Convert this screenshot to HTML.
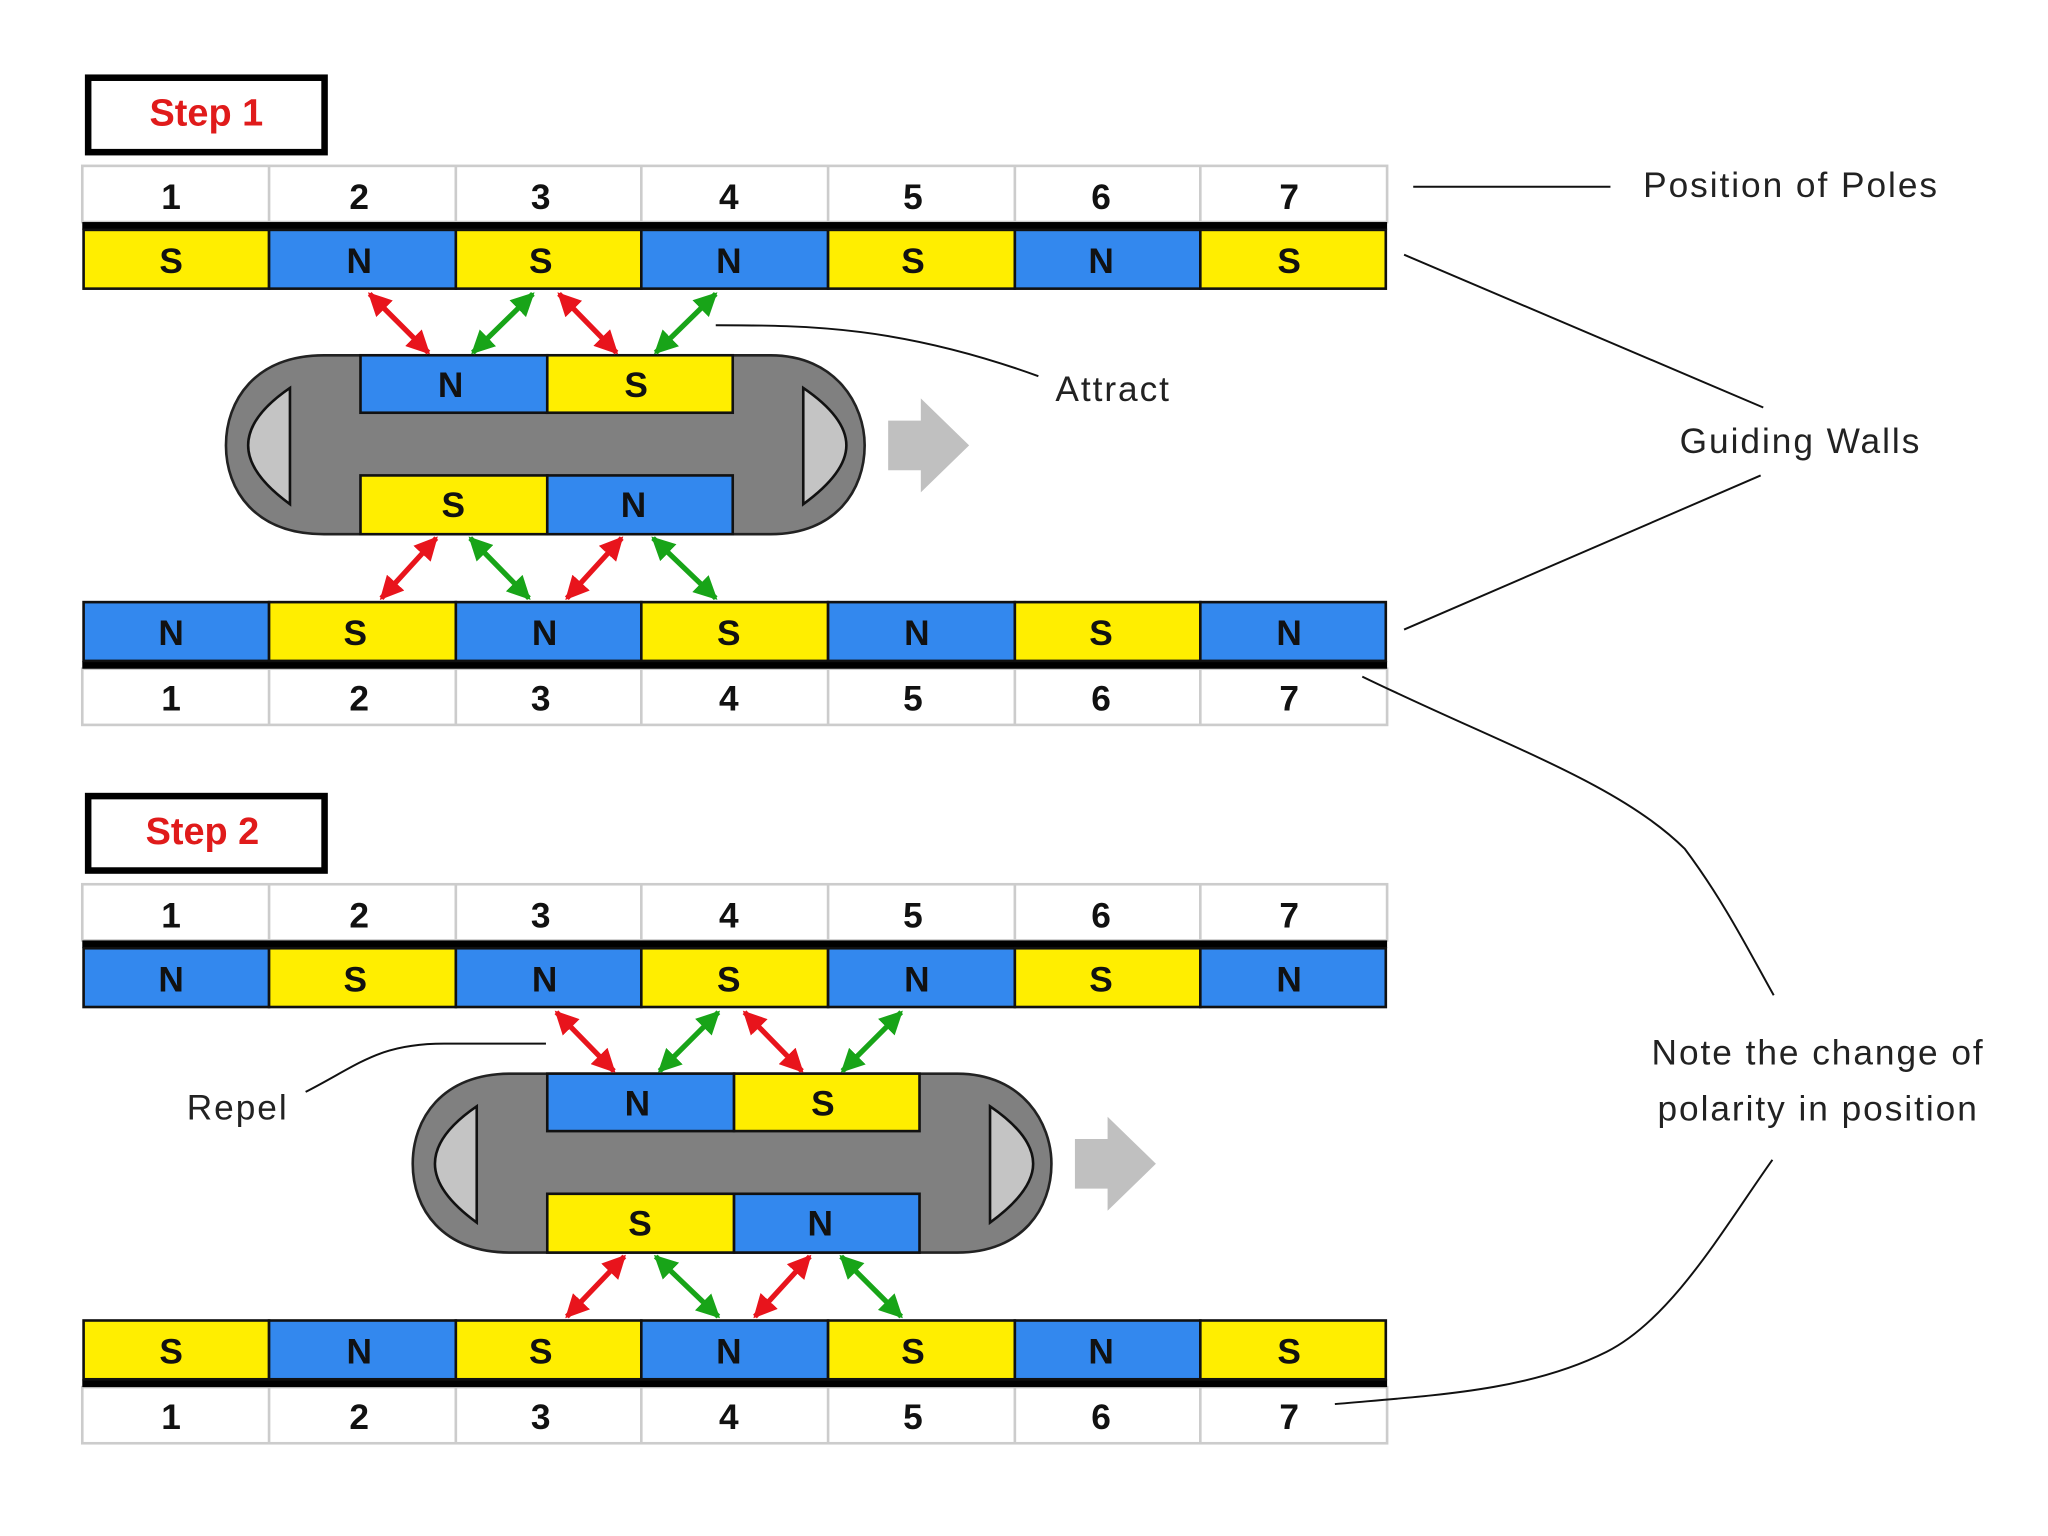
<!DOCTYPE html>
<html><head><meta charset="utf-8"><style>
html,body{margin:0;padding:0;background:#fff;}
svg{display:block;}
text{font-family:"Liberation Sans",sans-serif;}
.n{font-size:27px;font-weight:bold;fill:#111;text-anchor:middle;}
.lb{font-size:27px;fill:#222;letter-spacing:1.5px;}
</style></head><body>
<svg width="2048" height="1536" viewBox="0 0 1568 1176" xmlns="http://www.w3.org/2000/svg">
<defs>
<marker id="rh" viewBox="0 0 10 10" refX="9" refY="5" markerWidth="4.5" markerHeight="4.5" orient="auto-start-reverse"><path d="M0,0 L10,5 L0,10 z" fill="#e8141c"/></marker>
<marker id="gh" viewBox="0 0 10 10" refX="9" refY="5" markerWidth="4.5" markerHeight="4.5" orient="auto-start-reverse"><path d="M0,0 L10,5 L0,10 z" fill="#18a418"/></marker>
</defs>
<rect width="1568" height="1176" fill="#fff"/>

<g>
<rect x="67.5" y="59.5" width="181" height="57" fill="#fff" stroke="#000" stroke-width="5"/>
<text x="158" y="96" text-anchor="middle" style="font-size:29px;font-weight:bold;fill:#e01b1b">Step 1</text>
</g>
<g>
<rect x="67.5" y="609.5" width="181" height="57" fill="#fff" stroke="#000" stroke-width="5"/>
<text x="155" y="646" text-anchor="middle" style="font-size:29px;font-weight:bold;fill:#e01b1b">Step 2</text>
</g>

<g stroke="#ccc" stroke-width="2" fill="#fff">
<rect x="63" y="127" width="999" height="43"/>
<rect x="63" y="512" width="999" height="43"/>
<rect x="63" y="677" width="999" height="43"/>
<rect x="63" y="1062" width="999" height="43"/>
</g>
<g stroke="#ccc" stroke-width="2">
<path d="M206 127V170M349 127V170M491 127V170M634 127V170M777 127V170M919 127V170"/>
<path d="M206 512V555M349 512V555M491 512V555M634 512V555M777 512V555M919 512V555"/>
<path d="M206 677V720M349 677V720M491 677V720M634 677V720M777 677V720M919 677V720"/>
<path d="M206 1062V1105M349 1062V1105M491 1062V1105M634 1062V1105M777 1062V1105M919 1062V1105"/>
</g>
<rect x="63" y="170" width="999" height="6" fill="#000"/>
<rect x="63" y="506" width="999" height="6" fill="#000"/>
<rect x="63" y="720" width="999" height="6" fill="#000"/>
<rect x="63" y="1056" width="999" height="6" fill="#000"/>

<g stroke="#111" stroke-width="2">
<rect x="64" y="176" width="142" height="45" fill="#ffee00"/>
<rect x="206" y="176" width="143" height="45" fill="#3388ee"/>
<rect x="349" y="176" width="142" height="45" fill="#ffee00"/>
<rect x="491" y="176" width="143" height="45" fill="#3388ee"/>
<rect x="634" y="176" width="143" height="45" fill="#ffee00"/>
<rect x="777" y="176" width="142" height="45" fill="#3388ee"/>
<rect x="919" y="176" width="142" height="45" fill="#ffee00"/>
<rect x="64" y="461" width="142" height="45" fill="#3388ee"/>
<rect x="206" y="461" width="143" height="45" fill="#ffee00"/>
<rect x="349" y="461" width="142" height="45" fill="#3388ee"/>
<rect x="491" y="461" width="143" height="45" fill="#ffee00"/>
<rect x="634" y="461" width="143" height="45" fill="#3388ee"/>
<rect x="777" y="461" width="142" height="45" fill="#ffee00"/>
<rect x="919" y="461" width="142" height="45" fill="#3388ee"/>
<rect x="64" y="726" width="142" height="45" fill="#3388ee"/>
<rect x="206" y="726" width="143" height="45" fill="#ffee00"/>
<rect x="349" y="726" width="142" height="45" fill="#3388ee"/>
<rect x="491" y="726" width="143" height="45" fill="#ffee00"/>
<rect x="634" y="726" width="143" height="45" fill="#3388ee"/>
<rect x="777" y="726" width="142" height="45" fill="#ffee00"/>
<rect x="919" y="726" width="142" height="45" fill="#3388ee"/>
<rect x="64" y="1011" width="142" height="45" fill="#ffee00"/>
<rect x="206" y="1011" width="143" height="45" fill="#3388ee"/>
<rect x="349" y="1011" width="142" height="45" fill="#ffee00"/>
<rect x="491" y="1011" width="143" height="45" fill="#3388ee"/>
<rect x="634" y="1011" width="143" height="45" fill="#ffee00"/>
<rect x="777" y="1011" width="142" height="45" fill="#3388ee"/>
<rect x="919" y="1011" width="142" height="45" fill="#ffee00"/>
</g>

<g>
<text x="131" y="160" class="n">1</text><text x="275" y="160" class="n">2</text><text x="414" y="160" class="n">3</text><text x="558" y="160" class="n">4</text><text x="699" y="160" class="n">5</text><text x="843" y="160" class="n">6</text><text x="987" y="160" class="n">7</text>
<text x="131" y="209" class="n">S</text><text x="275" y="209" class="n">N</text><text x="414" y="209" class="n">S</text><text x="558" y="209" class="n">N</text><text x="699" y="209" class="n">S</text><text x="843" y="209" class="n">N</text><text x="987" y="209" class="n">S</text>
<text x="131" y="494" class="n">N</text><text x="272" y="494" class="n">S</text><text x="417" y="494" class="n">N</text><text x="558" y="494" class="n">S</text><text x="702" y="494" class="n">N</text><text x="843" y="494" class="n">S</text><text x="987" y="494" class="n">N</text>
<text x="131" y="544" class="n">1</text><text x="275" y="544" class="n">2</text><text x="414" y="544" class="n">3</text><text x="558" y="544" class="n">4</text><text x="699" y="544" class="n">5</text><text x="843" y="544" class="n">6</text><text x="987" y="544" class="n">7</text>
<text x="131" y="710" class="n">1</text><text x="275" y="710" class="n">2</text><text x="414" y="710" class="n">3</text><text x="558" y="710" class="n">4</text><text x="699" y="710" class="n">5</text><text x="843" y="710" class="n">6</text><text x="987" y="710" class="n">7</text>
<text x="131" y="759" class="n">N</text><text x="272" y="759" class="n">S</text><text x="417" y="759" class="n">N</text><text x="558" y="759" class="n">S</text><text x="702" y="759" class="n">N</text><text x="843" y="759" class="n">S</text><text x="987" y="759" class="n">N</text>
<text x="131" y="1044" class="n">S</text><text x="275" y="1044" class="n">N</text><text x="414" y="1044" class="n">S</text><text x="558" y="1044" class="n">N</text><text x="699" y="1044" class="n">S</text><text x="843" y="1044" class="n">N</text><text x="987" y="1044" class="n">S</text>
<text x="131" y="1094" class="n">1</text><text x="275" y="1094" class="n">2</text><text x="414" y="1094" class="n">3</text><text x="558" y="1094" class="n">4</text><text x="699" y="1094" class="n">5</text><text x="843" y="1094" class="n">6</text><text x="987" y="1094" class="n">7</text>
</g>

<g id="car">
<path d="M248 272 H590 C640 272 662 310 662 341 C662 375 640 409 590 409 H248 C195 409 173 375 173 341 C173 307 195 272 248 272 Z" fill="#808080" stroke="#222" stroke-width="2"/>
<path d="M222 297 V386 C200 370 190 355 190 341 C190 327 200 312 222 297 Z" fill="#c4c4c4" stroke="#111" stroke-width="2"/>
<path d="M615 297 V386 C637 370 648 355 648 341 C648 327 637 312 615 297 Z" fill="#c4c4c4" stroke="#111" stroke-width="2"/>
<g stroke="#111" stroke-width="2">
<rect x="276" y="272" width="143" height="44" fill="#3388ee"/>
<rect x="419" y="272" width="142" height="44" fill="#ffee00"/>
<rect x="276" y="364" width="143" height="45" fill="#ffee00"/>
<rect x="419" y="364" width="142" height="45" fill="#3388ee"/>
</g>
<text x="345" y="304" class="n">N</text><text x="487" y="304" class="n">S</text>
<text x="347" y="396" class="n">S</text><text x="485" y="396" class="n">N</text>
<path d="M680 322 H705 V305 L742 341 L705 377 V360 H680 Z" fill="#c0c0c0"/>
</g>
<use href="#car" transform="translate(143,550)"/>

<g stroke-width="4" fill="none">
<path d="M283 225 L328 270" stroke="#e8141c" marker-start="url(#rh)" marker-end="url(#rh)"/>
<path d="M408 225 L362 270" stroke="#18a418" marker-start="url(#gh)" marker-end="url(#gh)"/>
<path d="M428 225 L472 270" stroke="#e8141c" marker-start="url(#rh)" marker-end="url(#rh)"/>
<path d="M548 225 L502 270" stroke="#18a418" marker-start="url(#gh)" marker-end="url(#gh)"/>
<path d="M334 412 L292 458" stroke="#e8141c" marker-start="url(#rh)" marker-end="url(#rh)"/>
<path d="M360 412 L405 458" stroke="#18a418" marker-start="url(#gh)" marker-end="url(#gh)"/>
<path d="M476 412 L434 458" stroke="#e8141c" marker-start="url(#rh)" marker-end="url(#rh)"/>
<path d="M500 412 L548 458" stroke="#18a418" marker-start="url(#gh)" marker-end="url(#gh)"/>
<path d="M426 775 L470 820" stroke="#e8141c" marker-start="url(#rh)" marker-end="url(#rh)"/>
<path d="M550 775 L505 820" stroke="#18a418" marker-start="url(#gh)" marker-end="url(#gh)"/>
<path d="M570 775 L614 820" stroke="#e8141c" marker-start="url(#rh)" marker-end="url(#rh)"/>
<path d="M690 775 L645 820" stroke="#18a418" marker-start="url(#gh)" marker-end="url(#gh)"/>
<path d="M478 962 L434 1008" stroke="#e8141c" marker-start="url(#rh)" marker-end="url(#rh)"/>
<path d="M502 962 L550 1008" stroke="#18a418" marker-start="url(#gh)" marker-end="url(#gh)"/>
<path d="M620 962 L578 1008" stroke="#e8141c" marker-start="url(#rh)" marker-end="url(#rh)"/>
<path d="M644 962 L690 1008" stroke="#18a418" marker-start="url(#gh)" marker-end="url(#gh)"/>
</g>

<g stroke="#111" stroke-width="1.5" fill="none">
<path d="M1082 143 H1233"/>
<path d="M1075 195 L1350 312"/>
<path d="M1075 482 L1348 364"/>
<path d="M548 249 C620 249 690 250 795 288"/>
<path d="M234 836 C275 815 290 799 340 799 H418"/>
<path d="M1043 518 C1150 570 1240 600 1290 650 C1320 690 1340 730 1358 762"/>
<path d="M1357 888 C1320 940 1280 1010 1230 1035 C1170 1065 1100 1068 1022 1075"/>
</g>

<g>
<text x="1258" y="151" class="lb">Position of Poles</text>
<text x="1286" y="347" class="lb">Guiding Walls</text>
<text x="808" y="307" class="lb">Attract</text>
<text x="143" y="857" class="lb">Repel</text>
<text x="1392" y="815" class="lb" text-anchor="middle">Note the change of</text>
<text x="1392" y="858" class="lb" text-anchor="middle">polarity in position</text>
</g>
</svg>
</body></html>
